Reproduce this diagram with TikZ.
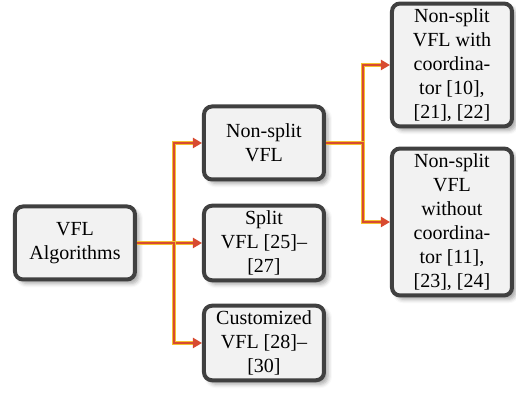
\documentclass[tikz,border=0pt]{standalone}
\usepackage{fontspec}
\setmainfont{Liberation Serif}
\usetikzlibrary{arrows.meta,shadows.blur}
\definecolor{boxline}{HTML}{404040}
\definecolor{boxfill}{HTML}{F2F2F2}
\definecolor{linkred}{HTML}{D84A30}
\definecolor{linkgold}{HTML}{F4C12E}

\begin{document}
\begin{tikzpicture}[node distance=50pt, every node/.style={align=center},
  box/.style={draw=boxline, line width=2pt, rounded corners=4pt, fill=boxfill, minimum width=60pt, minimum height=36.5pt, inner sep=2.5pt, blur shadow={shadow xshift=2pt, shadow yshift=-2pt, shadow blur radius=2pt, shadow opacity=35}},
  link/.style={draw=linkred, line width=1pt, -{Triangle[length=4.5pt,width=5pt]}, preaction={draw=linkgold, line width=1.8pt, shorten >=4pt, -}}]
\useasboundingbox (-37.5pt,121.5pt) rectangle (220.5pt,-75.5pt);
\node (alg) [box] {VFL\\Algorithms};
\node (split) [box, right of=alg, node distance=94.5pt] {Split\\VFL [25]–\\{[27]}};
\node (nonsplit) [box, above of=split] {Non-split\\VFL};
\node (custom) [box, below of=split] {Customized\\VFL [28]–\\{[30]}};
\node (withcoord) [box, right of=nonsplit, node distance=94pt, yshift=39pt] {Non-split\\VFL with\\coordina-\\tor [10],\\{[21], [22]}};
\node (withoutcoord) [box, right of=nonsplit, node distance=94pt, yshift=-39.5pt] {Non-split\\VFL\\without\\coordina-\\tor [11],\\{[23], [24]}};

\draw[link] (alg.east) -- ++(18.5pt,0) |- (nonsplit.west);
\draw[link] (alg.east) -- ++(18.5pt,0) |- (split.west);
\draw[link] (alg.east) -- ++(18.5pt,0) |- (custom.west);
\draw[link] (nonsplit.east) -- ++(18.5pt,0) |- (withcoord.west);
\draw[link] (nonsplit.east) -- ++(18.5pt,0) |- (withoutcoord.west);
\end{tikzpicture}
\end{document}
